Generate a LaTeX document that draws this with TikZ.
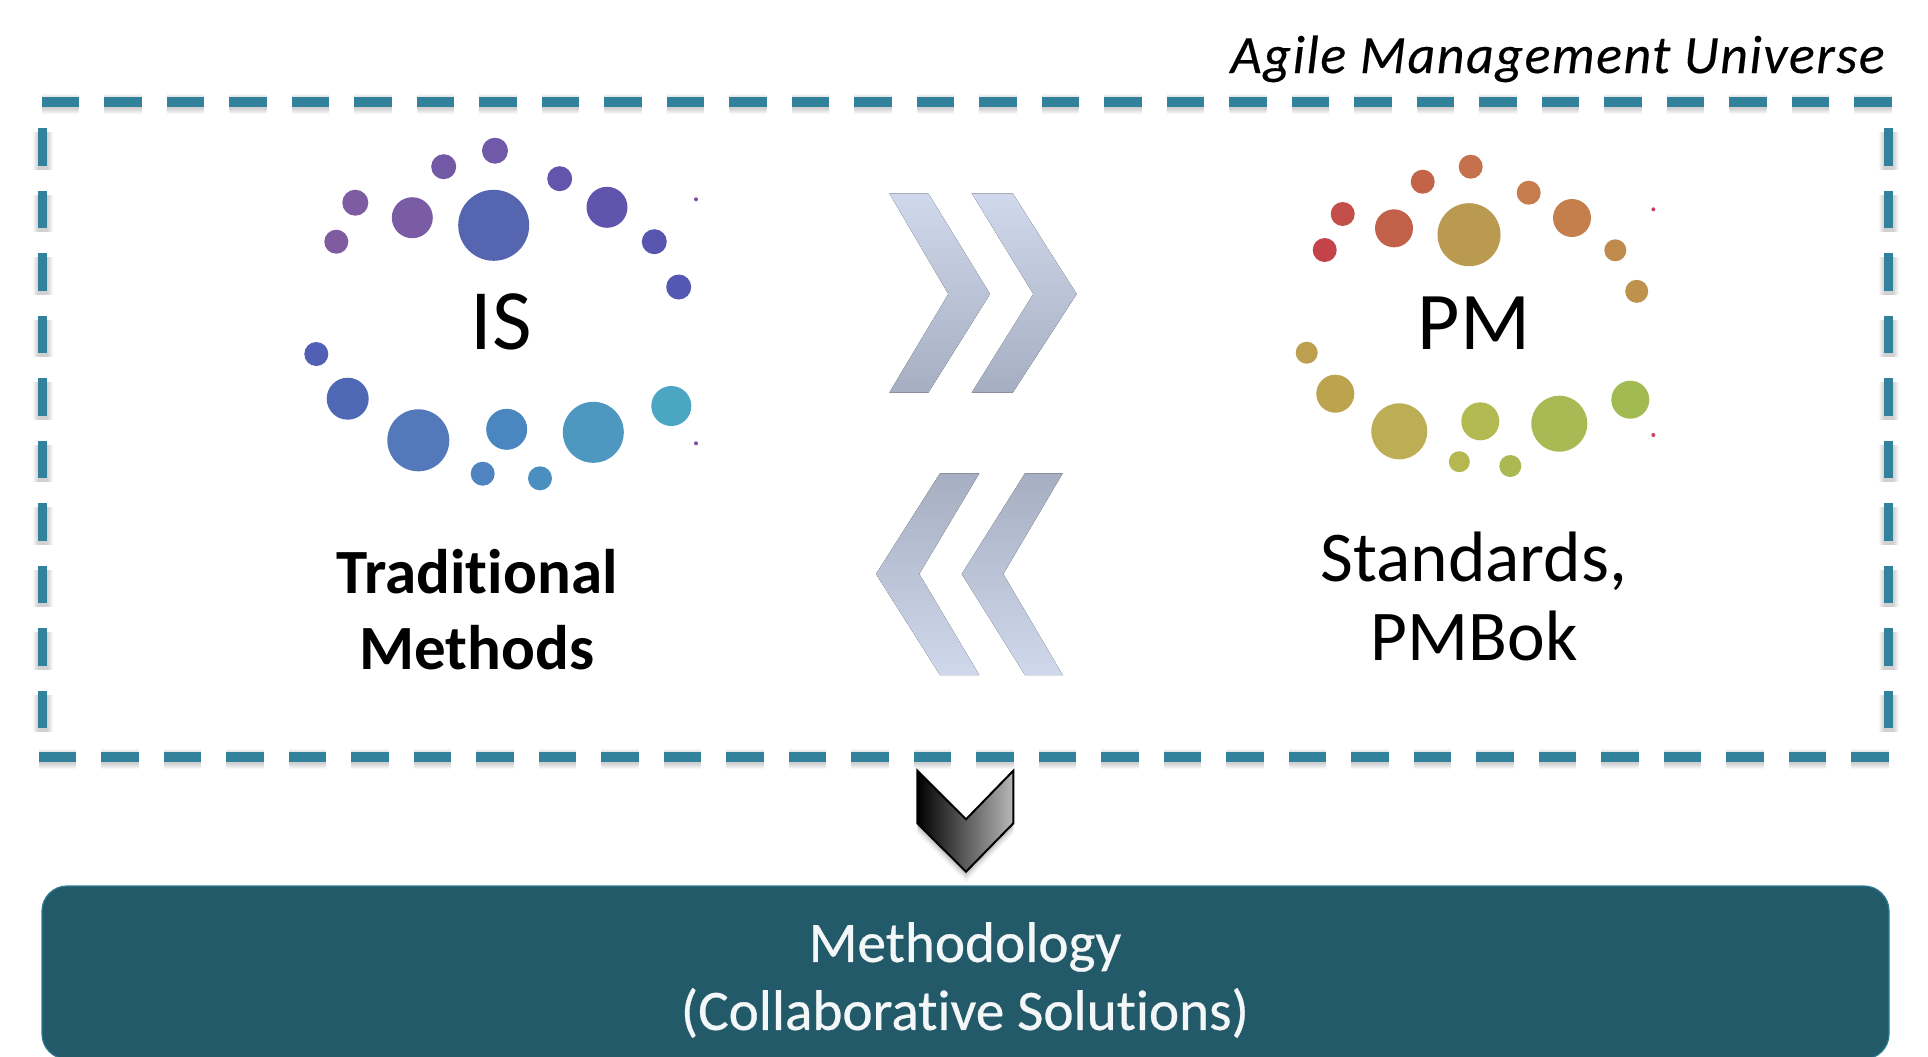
\documentclass[tikz,border=0pt]{standalone}
\usepackage{fontspec}
\setmainfont[Ligatures=NoCommon]{Carlito}
\definecolor{dashteal}{HTML}{33829B}
\definecolor{boxteal}{HTML}{235A69}
\definecolor{boxedge}{HTML}{2F7C92}
\definecolor{chevtop}{HTML}{CFD9EB}
\definecolor{chevbot}{HTML}{A6AFC2}
\tikzset{
    dot/.style={circle, inner sep=0pt, minimum size=#1 pt, fill=dotcol},
    dashline/.style={draw=dashteal, line width=4.6pt, dash pattern=on 18.75pt off 12.5pt},
    dashblur/.style={draw=black, opacity=0.03, dash pattern=on 18.75pt off 12.5pt},
}
\begin{document}
\begin{tikzpicture}[x=0.5pt, y=-0.5pt,
   title/.style={font=\fontsize{27}{32}\selectfont\itshape\addfontfeatures{LetterSpace=2.8,FakeBold=0.3}, anchor=base east, inner sep=0pt},
   isname/.style={font=\fontsize{43}{50}\selectfont},
   pmname/.style={font=\fontsize{41}{50}\selectfont},
   boldlabel/.style={font=\fontsize{31.5}{38}\selectfont\bfseries, align=center},
   pmlabel/.style={font=\fontsize{35.7}{39.5}\selectfont, align=center},
   boxlabel/.style={font=\fontsize{28.6}{34}\selectfont\addfontfeatures{FakeBold=0.5}, text=white!95!boxteal, align=center}]

\clip (0,0) rectangle (1928,1056);
\fill[white] (0,0) rectangle (1928,1056);

\coordinate (topL) at (41.5,102);
\coordinate (topR) at (1892,102);
\coordinate (botL) at (38.5,757);
\coordinate (botR) at (1892,757);
\coordinate (lefT) at (42.7,128);
\coordinate (lefB) at (42.7,731);
\coordinate (rigT) at (1888.5,128);
\coordinate (rigB) at (1888.5,731);

% shadows of the dashes
\foreach \w in {5pt, 6pt, 7pt, 8pt, 9pt, 10pt} {
    \draw[dashblur, line width=\w] ([yshift=-1pt]topL) -- ([yshift=-1pt]topR);
    \draw[dashblur, line width=\w] ([yshift=-1pt]botL) -- ([yshift=-1pt]botR);
    \draw[dashblur, line width=\w] ([yshift=-2pt]lefT) -- ([yshift=-2pt]lefB);
    \draw[dashblur, line width=\w] ([yshift=-2pt]rigT) -- ([yshift=-2pt]rigB);
}
\draw[dashline] (topL) -- (topR);
\draw[dashline] (botL) -- (botR);
\draw[dashline] (lefT) -- (lefB);
\draw[dashline] (rigT) -- (rigB);

\node[title] (universe) at (1885,73) {Agile Management Universe};

% IS ring
\foreach \px/\py/\pd/\pc [count=\i] in {
    495/150.7/13/7059A8, 443.7/166.7/12.5/7159A5, 355.3/202.7/13/7D5CA2, 336.3/241.7/12/7F5BA0,
    412.3/217.7/20.5/795CA4, 493.7/225.3/35.5/5565B0, 559.7/178.7/12.5/6256AC, 607/207.3/20.5/6055AD,
    654.3/241.7/12.5/5855AE, 678.7/287/12.5/5558B2, 316.3/354/12/5160B4, 347.7/398.7/21/4F68B5,
    418.3/440.3/31/5379BA, 506.7/429.3/20.5/4A86BF, 482.7/473.7/12/4F84C0, 540/478.3/12/4A8FC0,
    593.3/432.3/30.5/4E97C0, 671.3/406/20/4BA6C4, 696/199.3/2/7A4FA0, 696/443.3/2/7A4FA0} {
    \definecolor{dotcol}{HTML}{\pc}
    \node[dot=\pd] (isdot\i) at (\px,\py) {};
}
% PM ring
\foreach \px/\py/\pd/\pc [count=\i] in {
    1470.7/166.7/12/C6714E, 1422.7/181.7/12/C36449, 1342.7/214/12/C44F4A, 1324.7/250/12/C4434A,
    1394/228.3/19/C2604A, 1469/234.7/31.5/BA9950, 1528.7/192.7/12/C67C4C, 1572/218/19/C47F4C,
    1615.3/250.3/11/BF8A4C, 1636.7/291.3/11.5/BE914C, 1306.7/352.7/11/BCA050, 1335.3/393.7/19/BCA34E,
    1399.3/431.3/28/BCAE54, 1480.3/421.3/19/B3BA52, 1459.3/461.7/10.5/B5B850, 1510.3/466/11/ABB952,
    1559.3/423.7/28/A9BA54, 1630.3/399.7/19/A2BA52, 1653.3/209.3/2/D04060, 1653.3/435/2/D04060} {
    \definecolor{dotcol}{HTML}{\pc}
    \node[dot=\pd] (pmdot\i) at (\px,\py) {};
}

\node[isname] (isname) at (501,322) {IS};
\node[pmname] (pmname) at (1474,323) {PM};
\node[boldlabel] (tradition) at (477,610) {Traditional\\Methods};
\node[pmlabel] (standards) at (1474,596) {Standards,\\PMBok};

% pale chevrons
\fill[top color=chevtop, bottom color=chevbot] (889.3,193.3) -- (928.3,193.3) -- (990,294) -- (928.3,392.7) -- (889.3,392.7) -- (948.3,294) -- cycle;
\fill[top color=chevtop, bottom color=chevbot] (971.7,193.3) -- (1012.7,193.3) -- (1076.7,294) -- (1012.7,392.7) -- (971.7,392.7) -- (1033.3,294) -- cycle;
\fill[top color=chevbot, bottom color=chevtop] (940,473.3) -- (979.3,473.3) -- (919.3,574) -- (979.3,675) -- (940,675) -- (876,574) -- cycle;
\fill[top color=chevbot, bottom color=chevtop] (1025,473.3) -- (1062.7,473.3) -- (1003.3,574) -- (1062.7,675) -- (1025,675) -- (961.7,574) -- cycle;

% dark chevron
\foreach \d/\o in {10/0.05, 7/0.07, 4/0.1} {
    \fill[black, opacity=\o] (917.3,770.7+\d) -- (966,819.3+\d) -- (1013.3,770.7+\d) -- (1013.3,823.3+\d) -- (966,871.7+\d) -- (917.3,823.3+\d) -- cycle;
}
\draw[left color=black, right color=black!28, draw=black, line width=1pt]
    (917.3,770.7) -- (966,819.3) -- (1013.3,770.7) -- (1013.3,823.3) -- (966,871.7) -- (917.3,823.3) -- cycle;

\draw[fill=boxteal, draw=boxedge, line width=0.6pt, rounded corners=12.5pt] (42,886) rectangle (1889,1059);
\node[boxlabel] (method) at (965,980) {Methodology\\(Collaborative Solutions)};

\end{tikzpicture}
\end{document}
